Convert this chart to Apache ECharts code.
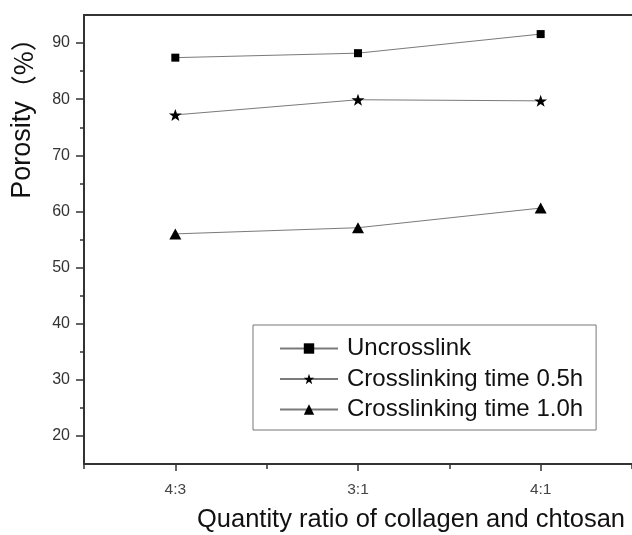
<!DOCTYPE html>
<html>
<head>
<meta charset="utf-8">
<script src="https://cdn.jsdelivr.net/npm/echarts@6/dist/echarts.min.js"></script>
<style>
  html, body { margin: 0; padding: 0; background: #fff; }
  #chart { width: 632px; height: 535px; }
</style>
</head>
<body>
<div id="chart"></div>
<script>
// Collagen : chitosan ratios, plotted at positions 1, 2, 3
const categories = ['4:3', '3:1', '4:1'];
const seriesNames = ['Uncrosslink', 'Crosslinking time 0.5h', 'Crosslinking time 1.0h'];
const uncrosslink = [87.4, 88.2, 91.6];
const crosslink05h = [77.2, 79.9, 79.7];
const crosslink10h = [56.0, 57.1, 60.6];
const yMajorTicks = [20, 30, 40, 50, 60, 70, 80, 90];
const yMinorTicks = [25, 35, 45, 55, 65, 75, 85];

const FONT = '"Liberation Sans", Arial, "Noto Sans CJK SC", sans-serif';
const CJK = '"Noto Sans CJK SC", sans-serif';
const AXIS = '#333';
const STAR = 'path://M50,0 L61.8,35.1 L98.1,34.5 L69.1,56.7 L79.4,91.5 L50,70.5 L20.6,91.5 L30.9,56.7 L1.9,34.5 L38.2,35.1 Z';

const xPos = categories.map((c, i) => i + 1);
const xMinor = [0.5].concat(xPos.map(v => v + 0.5));
const pairs = vals => vals.map((v, i) => [xPos[i], v]);

const chart = echarts.init(document.getElementById('chart'), null, { renderer: 'canvas' });

const baseLine = (name, data, symbol, size) => ({
  name: name,
  type: 'line',
  xAxisIndex: 0,
  yAxisIndex: 0,
  data: pairs(data),
  symbol: symbol,
  symbolSize: size,
  showSymbol: true,
  itemStyle: { color: '#000' },
  lineStyle: { color: '#7a7a7a', width: 1 },
  emphasis: { disabled: true },
  animation: false
});

chart.setOption({
  animation: false,
  backgroundColor: '#fff',
  grid: { left: 84, top: 15, right: -5, bottom: 71 },
  xAxis: [
    {
      type: 'value', position: 'bottom', min: 0.5, max: 3.5,
      axisLine: { lineStyle: { color: AXIS, width: 2 } },
      axisTick: { show: true, inside: false, length: 7, customValues: xPos, lineStyle: { color: AXIS, width: 1.5 } },
      axisLabel: {
        customValues: xPos, margin: 18,
        formatter: v => categories[Math.round(v) - 1] || '',
        color: '#444', fontSize: 15.5, fontFamily: FONT
      },
      splitLine: { show: false }
    },
    {
      type: 'value', position: 'bottom', min: 0.5, max: 3.5,
      axisLine: { show: false },
      axisTick: { show: true, inside: false, length: 5, customValues: xMinor, lineStyle: { color: AXIS, width: 1.5 } },
      axisLabel: { show: false },
      splitLine: { show: false }
    },
    {
      type: 'value', position: 'top', min: 0.5, max: 3.5,
      axisLine: { lineStyle: { color: AXIS, width: 2 } },
      axisTick: { show: false },
      axisLabel: { show: false },
      splitLine: { show: false }
    }
  ],
  yAxis: [
    {
      type: 'value', position: 'left', min: 15, max: 95,
      axisLine: { show: true, lineStyle: { color: AXIS, width: 2 } },
      axisTick: { show: true, inside: false, length: 8, customValues: yMajorTicks, lineStyle: { color: AXIS, width: 1.5 } },
      axisLabel: { customValues: yMajorTicks, margin: 14, color: '#333', fontSize: 16, fontFamily: FONT },
      splitLine: { show: false }
    },
    {
      type: 'value', position: 'left', min: 15, max: 95,
      axisLine: { show: false },
      axisTick: { show: true, inside: false, length: 4, customValues: yMinorTicks, lineStyle: { color: AXIS, width: 1.5 } },
      axisLabel: { show: false },
      splitLine: { show: false }
    }
  ],
  legend: {
    orient: 'vertical',
    left: 253, top: 325,
    padding: [11.5, 13, 8.5, 26],
    itemWidth: 58, itemHeight: 13, itemGap: 6.5,
    borderColor: '#777', borderWidth: 1,
    selectedMode: false,
    textStyle: { fontSize: 24, fontFamily: FONT, color: '#111', lineHeight: 24, padding: [0, 0, 0, 4] },
    data: seriesNames
  },
  series: [
    baseLine(seriesNames[0], uncrosslink, 'rect', 8),
    baseLine(seriesNames[1], crosslink05h, STAR, [13, 12]),
    baseLine(seriesNames[2], crosslink10h, 'triangle', [12, 11])
  ],
  graphic: [
    {
      type: 'text', x: 23, y: 112, rotation: Math.PI / 2,
      style: {
        text: '{a|Porosity}{b|（%）}',
        align: 'center', verticalAlign: 'middle',
        rich: {
          a: { font: '27px ' + FONT, fill: '#111' },
          b: { font: '26px ' + CJK, fill: '#111' }
        }
      }
    },
    {
      type: 'text', x: 411, y: 520,
      style: { text: 'Quantity ratio of collagen and chtosan', font: '25.5px ' + FONT, fill: '#111', align: 'center', verticalAlign: 'middle' }
    }
  ]
});
</script>
</body>
</html>
